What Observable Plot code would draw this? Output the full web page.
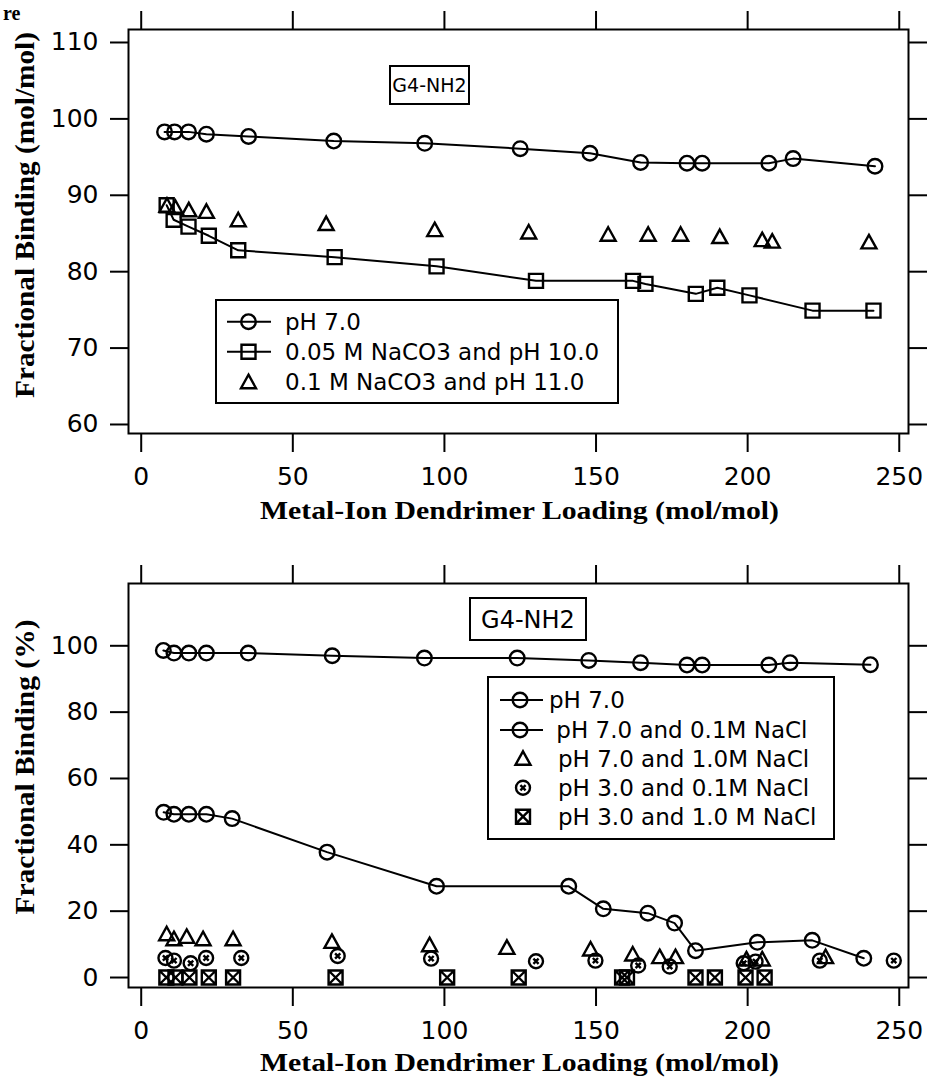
<!DOCTYPE html>
<html><head><meta charset="utf-8">
<script src="https://cdn.jsdelivr.net/npm/d3@7"></script>
<script src="https://cdn.jsdelivr.net/npm/@observablehq/plot@0.6"></script>
<style>
body{margin:0;background:#fff;}
#wrap{position:relative;width:927px;height:1081px;overflow:hidden;background:#fff;}
#wrap > svg{position:absolute;left:0;}
</style></head><body><div id="wrap"></div>
<script>
// ---------- data ----------
const xTicks = [0, 50, 100, 150, 200, 250];
const topYTicks = [60, 70, 80, 90, 100, 110];
const botYTicks = [0, 20, 40, 60, 80, 100];

const xLabel = "Metal-Ion Dendrimer Loading (mol/mol)";
const topYLabel = "Fractional Binding (mol/mol)";
const botYLabel = "Fractional Binding (%)";
const boxLabel = "G4-NH2";

// top panel
const topPH7X = [7.7, 11.0, 15.6, 21.5, 35.4, 63.5, 93.5, 125, 148, 164.7, 180, 185, 207, 215, 242];
const topPH7Y = [98.3, 98.3, 98.3, 98.0, 97.7, 97.1, 96.8, 96.1, 95.5, 94.3, 94.2, 94.2, 94.2, 94.8, 93.8];
const topCO305X = [8.4, 10.7, 15.6, 22.3, 32, 63.8, 97.4, 130.2, 162.2, 166.3, 182.9, 190, 200.6, 221.4, 241.5];
const topCO305Y = [88.7, 86.8, 85.9, 84.7, 82.8, 81.9, 80.7, 78.8, 78.8, 78.4, 77.1, 77.9, 76.9, 74.9, 74.9];
const topCO31X = [8.5, 11.3, 15.7, 21.5, 32, 61, 96.8, 127.8, 154, 167.2, 177.9, 190.8, 204.8, 208.1, 240];
const topCO31Y = [88.7, 88.4, 88.1, 87.9, 86.8, 86.3, 85.5, 85.2, 84.9, 84.9, 84.9, 84.6, 84.2, 84.0, 83.9];
const topLegend = ["pH 7.0", "0.05 M NaCO3 and pH 10.0", "0.1 M NaCO3 and pH 11.0"];

// bottom panel
const botPH7X = [7.3, 10.8, 15.7, 21.5, 35.3, 63, 93.4, 124, 147.6, 164.7, 180, 185, 207, 214, 240.5];
const botPH7Y = [98.6, 97.8, 97.8, 97.8, 97.8, 97.0, 96.3, 96.3, 95.6, 94.9, 94.2, 94.2, 94.2, 94.9, 94.3];
const botNa01X = [7.4, 10.8, 15.7, 21.5, 30, 61.3, 97.4, 141, 152.4, 167.1, 175.9, 182.8, 203.2, 221.3, 238.3];
const botNa01Y = [49.8, 49.2, 49.2, 49.2, 47.9, 37.8, 27.5, 27.5, 20.7, 19.4, 16.4, 8.1, 10.6, 11.2, 5.8];
const botNa1X = [8.4, 10.8, 15, 20.4, 30.3, 62.9, 95.1, 120.6, 148.2, 162.1, 171, 176.2, 199.6, 204.8, 225.7];
const botNa1Y = [13.2, 11.7, 12.4, 11.7, 11.7, 10.9, 9.9, 9.1, 8.6, 7.1, 6.3, 6.3, 5.6, 5.6, 6.3];
const botPH3Na01X = [8.0, 10.8, 16.3, 21.4, 33, 64.8, 95.6, 130.2, 149.8, 163.9, 174.3, 198.7, 202.6, 223.8, 248.2];
const botPH3Na01Y = [5.9, 5.1, 4.3, 5.9, 5.9, 6.5, 5.7, 4.9, 5.1, 3.6, 3.3, 4.3, 4.8, 5.1, 5.1];
const botPH3Na1X = [8.3, 11.3, 15.9, 22.3, 30.3, 64.1, 100.9, 124.5, 158.6, 160.2, 182.8, 189.2, 199.3, 205.6];
const botPH3Na1Y = [0, 0, 0, 0, 0, 0, 0, 0, 0, 0, 0, 0, 0, 0];
const botLegend = ["pH 7.0", " pH 7.0 and 0.1M NaCl", "pH 7.0 and 1.0M NaCl", "pH 3.0 and 0.1M NaCl", "pH 3.0 and 1.0 M NaCl"];

// ---------- symbols ----------
const symCircle = {draw(c){ c.moveTo(7.3,0); c.arc(0,0,7.3,0,2*Math.PI); }};
const symSquare = {draw(c){ c.rect(-7,-7,14,14); }};
const symTri = {draw(c){ c.moveTo(0,-7); c.lineTo(7.5,6.5); c.lineTo(-7.5,6.5); c.closePath(); }};
const symCrossCircle = {draw(c){ c.moveTo(7,0); c.arc(0,0,7,0,2*Math.PI); c.moveTo(-2.6,-2.6); c.lineTo(2.6,2.6); c.moveTo(2.6,-2.6); c.lineTo(-2.6,2.6); }};
const symXSquare = {draw(c){ c.rect(-7,-7,14,14); c.moveTo(-7,-7); c.lineTo(7,7); c.moveTo(7,-7); c.lineTo(-7,7); }};

const zipXY = (xs, ys) => xs.map((x, i) => ({x, y: ys[i]}));
const FONT = "DejaVu Sans";
const SERIF = "Liberation Serif, Times New Roman, serif";
const SW = 2.4;

function dots(data, symbol){
  return Plot.dot(data, {x: "x", y: "y", symbol, r: 5, stroke: "black", fill: "none", strokeWidth: SW});
}
function line(data){
  return Plot.line(data, {x: "x", y: "y", stroke: "black", strokeWidth: 2});
}

function panel({height, mt, mb, yDomain, yTicks, marks}){
  return Plot.plot({
    width: 927, height,
    marginLeft: 128, marginRight: 19, marginTop: mt, marginBottom: mb,
    x: {domain: [-4.19, 253.05]},
    y: {domain: yDomain},
    style: {fontFamily: FONT, fontSize: "25px", color: "#000", background: "transparent", overflow: "visible"},
    marks: [
      Plot.axisY({ticks: yTicks, anchor: "left", tickSize: 18, tickPadding: 12, strokeWidth: 2, label: null, fontSize: 25}),
      Plot.axisY({ticks: yTicks, anchor: "right", tickSize: 19, tickFormat: () => "", strokeWidth: 2, label: null}),
      Plot.axisX({ticks: xTicks, anchor: "bottom", tickSize: 19, tickPadding: 15, strokeWidth: 2, label: null, fontSize: 25}),
      Plot.axisX({ticks: xTicks, anchor: "top", tickSize: 19, tickFormat: () => "", strokeWidth: 2, label: null}),
      ...marks,
      Plot.frame({stroke: "black", strokeWidth: 2})
    ]
  });
}

function addText(svg, {x, y, text, size, family, weight, rotate, length, anchor}){
  const t = d3.select(svg).append("text")
    .attr("x", x).attr("y", y)
    .attr("font-family", family).attr("font-size", size)
    .attr("font-weight", weight || "normal")
    .attr("text-anchor", anchor || "middle")
    .attr("fill", "black")
    .text(text);
  if (length) t.attr("textLength", length).attr("lengthAdjust", "spacingAndGlyphs");
  if (rotate) t.attr("transform", `rotate(${rotate},${x},${y})`);
  return t;
}

function addBox(svg, {x0, y0, x1, y1}){
  d3.select(svg).append("rect").attr("x", x0).attr("y", y0).attr("width", x1 - x0).attr("height", y1 - y0)
    .attr("fill", "white").attr("stroke", "black").attr("stroke-width", 2);
}

function legendSymbol(g, symbol, cx, cy, withLine, lx0, lx1){
  if (withLine) g.append("line").attr("x1", lx0).attr("x2", lx1).attr("y1", cy).attr("y2", cy).attr("stroke", "black").attr("stroke-width", 2);
  g.append("path").attr("d", d3.symbol(symbol)()).attr("transform", `translate(${cx},${cy})`)
    .attr("fill", "none").attr("stroke", "black").attr("stroke-width", SW);
}

function legendText(g, x, y, s){
  g.append("text").attr("x", x).attr("y", y).attr("dy", "0.36em")
    .attr("text-anchor", "start")
    .attr("font-family", FONT).attr("font-size", 23).attr("fill", "black")
    .attr("xml:space", "preserve").style("white-space", "pre").text(s);
}

const wrap = document.getElementById("wrap");

// ---------- top panel ----------
const topSvg = panel({
  height: 540, mt: 29, mb: 107,
  yDomain: [58.82, 111.70], yTicks: topYTicks,
  marks: [
    line(zipXY(topPH7X, topPH7Y)), dots(zipXY(topPH7X, topPH7Y), symCircle),
    line(zipXY(topCO305X, topCO305Y)), dots(zipXY(topCO305X, topCO305Y), symSquare),
    dots(zipXY(topCO31X, topCO31Y), symTri)
  ]
});
topSvg.style.top = "0px";
wrap.appendChild(topSvg);
{
  const svg = topSvg;
  addText(svg, {x: 519.5, y: 519, text: xLabel, size: 26, family: SERIF, weight: "bold", length: 519});
  addText(svg, {x: 34, y: 215, text: topYLabel, size: 27, family: SERIF, weight: "bold", rotate: -90, length: 366});
  addText(svg, {x: 3, y: 20, text: "re", size: 20, family: SERIF, weight: "bold", anchor: "start"});
  addBox(svg, {x0: 390, y0: 66, x1: 469, y1: 104});
  addText(svg, {x: 429.5, y: 92, text: boxLabel, size: 19, family: FONT});
  addBox(svg, {x0: 216, y0: 300, x1: 618, y1: 403});
  const g = d3.select(svg).append("g");
  const ys = [321.7, 351.7, 381.7];
  legendSymbol(g, symCircle, 248.5, ys[0], true, 227, 271);
  legendSymbol(g, symSquare, 248.5, ys[1], true, 227, 271);
  legendSymbol(g, symTri, 248.5, ys[2], false);
  topLegend.forEach((s, i) => legendText(g, 285, ys[i], s));
}

// ---------- bottom panel ----------
const botSvg = panel({
  height: 541, mt: 43, mb: 94,
  yDomain: [-3.01, 118.78], yTicks: botYTicks,
  marks: [
    line(zipXY(botPH7X, botPH7Y)), dots(zipXY(botPH7X, botPH7Y), symCircle),
    line(zipXY(botNa01X, botNa01Y)), dots(zipXY(botNa01X, botNa01Y), symCircle),
    dots(zipXY(botNa1X, botNa1Y), symTri),
    dots(zipXY(botPH3Na01X, botPH3Na01Y), symCrossCircle),
    dots(zipXY(botPH3Na1X, botPH3Na1Y), symXSquare)
  ]
});
botSvg.style.top = "540px";
wrap.appendChild(botSvg);
{
  const svg = botSvg;
  addText(svg, {x: 519.5, y: 531, text: xLabel, size: 26, family: SERIF, weight: "bold", length: 519});
  addText(svg, {x: 34, y: 227, text: botYLabel, size: 27, family: SERIF, weight: "bold", rotate: -90, length: 295});
  addBox(svg, {x0: 470, y0: 58, x1: 586, y1: 100});
  addText(svg, {x: 528, y: 88, text: boxLabel, size: 24, family: FONT});
  addBox(svg, {x0: 488, y0: 137, x1: 834, y1: 299});
  const g = d3.select(svg).append("g");
  const ys = [160, 190, 218.3, 247.7, 276.7];
  legendSymbol(g, symCircle, 520, ys[0], true, 500, 543);
  legendSymbol(g, symCircle, 520, ys[1], true, 500, 543);
  legendSymbol(g, symTri, 523, ys[2], false);
  legendSymbol(g, symCrossCircle, 523, ys[3], false);
  legendSymbol(g, symXSquare, 523, ys[4], false);
  const xs = [549, 549, 558, 558, 558];
  botLegend.forEach((s, i) => legendText(g, xs[i], ys[i], s));
}
</script></body></html>
